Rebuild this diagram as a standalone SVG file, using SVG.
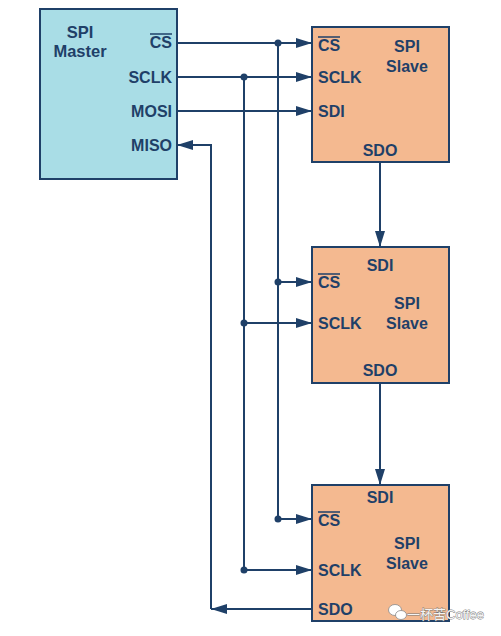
<svg xmlns="http://www.w3.org/2000/svg" width="501" height="636" viewBox="0 0 501 636">
<style>
.t{font-family:"Liberation Sans",Arial,sans-serif;font-weight:bold;font-size:16px;fill:#1F4068}
.m{text-anchor:middle}
.e{text-anchor:end}
.ln{stroke:#1F4068;stroke-width:2;fill:none}
.ah{fill:#1F4068}
.master{fill:#A9DDE6;stroke:#1F4068;stroke-width:2}
.slave{fill:#F4B990;stroke:#1F4068;stroke-width:2}
.ov{stroke:#1F4068;stroke-width:1.5}
.wm{font-family:"Liberation Sans","Noto Sans CJK SC",sans-serif;font-size:13px;fill:#f4f4f4;stroke:#777777;stroke-width:0.8;paint-order:stroke}
.wi{fill:#ffffff;stroke:#8a8a8a;stroke-width:0.8}
</style>
<defs>
<marker id="arrw" viewBox="0 0 16 10" refX="16" refY="5" markerWidth="16" markerHeight="10" markerUnits="userSpaceOnUse" orient="auto">
<path d="M0,0 L16,5 L0,10 z" class="ah"/>
</marker>
</defs>
<rect width="501" height="636" fill="#ffffff"/>

<g id="master">
<rect x="40" y="9" width="137" height="170" class="master"/>
<text x="80" y="38" class="t m" style="font-size:16.5px">SPI</text>
<text x="80" y="57" class="t m" style="font-size:16.5px">Master</text>
<text x="172" y="48" class="t e">CS</text>
<line x1="150" y1="34" x2="172" y2="34" class="ov"/>
<text x="172" y="83" class="t e">SCLK</text>
<text x="172" y="117" class="t e">MOSI</text>
<text x="172" y="151" class="t e">MISO</text>
</g>

<g id="slave1">
<rect x="312" y="27" width="137" height="135" class="slave"/>
<text x="318" y="51" class="t">CS</text>
<line x1="318" y1="37" x2="340" y2="37" class="ov"/>
<text x="318" y="83" class="t">SCLK</text>
<text x="318" y="117" class="t">SDI</text>
<text x="407" y="52" class="t m">SPI</text>
<text x="407" y="72" class="t m">Slave</text>
<text x="380" y="156" class="t m">SDO</text>
</g>

<g id="slave2">
<rect x="312" y="247" width="137" height="136" class="slave"/>
<text x="380" y="271" class="t m">SDI</text>
<text x="318" y="288" class="t">CS</text>
<line x1="318" y1="274" x2="340" y2="274" class="ov"/>
<text x="318" y="329" class="t">SCLK</text>
<text x="407" y="309" class="t m">SPI</text>
<text x="407" y="329" class="t m">Slave</text>
<text x="380" y="376" class="t m">SDO</text>
</g>

<g id="slave3">
<rect x="312" y="485" width="137" height="136" class="slave"/>
<text x="380" y="503" class="t m">SDI</text>
<text x="318" y="526" class="t">CS</text>
<line x1="318" y1="512" x2="340" y2="512" class="ov"/>
<text x="318" y="576" class="t">SCLK</text>
<text x="407" y="549" class="t m">SPI</text>
<text x="407" y="569" class="t m">Slave</text>
<text x="318" y="615" class="t">SDO</text>
</g>

<g id="connectors">
<path d="M177,43 H312" class="ln" marker-end="url(#arrw)"/>
<path d="M278,43 V519" class="ln"/>
<path d="M278,282 H312" class="ln" marker-end="url(#arrw)"/>
<path d="M278,519 H312" class="ln" marker-end="url(#arrw)"/>
<circle cx="278" cy="43" r="3.5" class="ah"/>
<circle cx="278" cy="282" r="3.5" class="ah"/>
<circle cx="278" cy="519" r="3.5" class="ah"/>
<path d="M177,77 H312" class="ln" marker-end="url(#arrw)"/>
<path d="M244,77 V570" class="ln"/>
<path d="M244,323 H312" class="ln" marker-end="url(#arrw)"/>
<path d="M244,570 H312" class="ln" marker-end="url(#arrw)"/>
<circle cx="244" cy="77" r="3.5" class="ah"/>
<circle cx="244" cy="323" r="3.5" class="ah"/>
<circle cx="244" cy="570" r="3.5" class="ah"/>
<path d="M177,111 H312" class="ln" marker-end="url(#arrw)"/>
<path d="M380,162 V247" class="ln" marker-end="url(#arrw)"/>
<path d="M380,383 V485" class="ln" marker-end="url(#arrw)"/>
<path d="M312,609 H211" class="ln" marker-end="url(#arrw)"/>
<path d="M211,609 V145 H177" class="ln" marker-end="url(#arrw)"/>
</g>

<g id="watermark">
<ellipse cx="395" cy="610" rx="6.5" ry="5.5" class="wi"/>
<ellipse cx="401" cy="615" rx="5.5" ry="4.5" class="wi"/>
<text x="407" y="619" class="wm">一杯苦Coffee</text>
</g>
</svg>
